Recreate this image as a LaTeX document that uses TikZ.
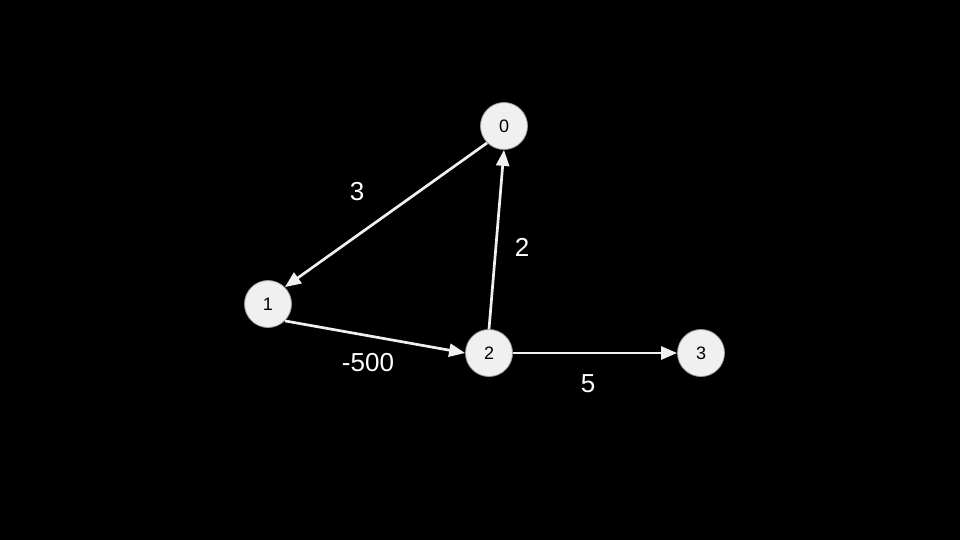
\documentclass[tikz,border=0pt]{standalone}
\usepackage{fontspec}
\setmainfont{Liberation Sans}
\usetikzlibrary{arrows.meta,positioning}

\begin{document}
\begin{tikzpicture}[x=1pt,y=-1pt,
    vertex/.style={circle, draw=gray!80, fill=black!6, line width=0.8pt,
      minimum size=47pt, inner sep=0pt, font=\fontsize{18}{21}\selectfont},
    edge/.style={draw=white!94!black, line width=2.7pt,
      -{Triangle[length=16pt,width=13pt]}},
    weight/.style={text=white, font=\fontsize{26}{30}\selectfont}]
    \fill[black] (0,0) rectangle (960,540);
    \useasboundingbox (0,0) rectangle (960,540);
    % vertices
    \node[vertex] (v0) at (504,126) {0};
    \node[vertex] (v1) at (268,304) {1};
    \node[vertex] (v2) at (489,353) {2};
    \node[vertex] (v3) at (701,353) {3};
    % directed edges
    \draw[edge] (v0.south west) -- (v1.north east);
    \draw[edge] (v1.south east) -- (v2.west);
    \draw[edge] (v2.north) -- (v0.south);
    \draw[edge] (v2.east) -- (v3.west);
    % weights
    \node[weight] (w01) at (357,192) {3};
    \node[weight] (w20) at (522,247) {2};
    \node[weight] (w12) at (368,363) {-500};
    \node[weight] (w23) at (588,384) {5};
\end{tikzpicture}
\end{document}
